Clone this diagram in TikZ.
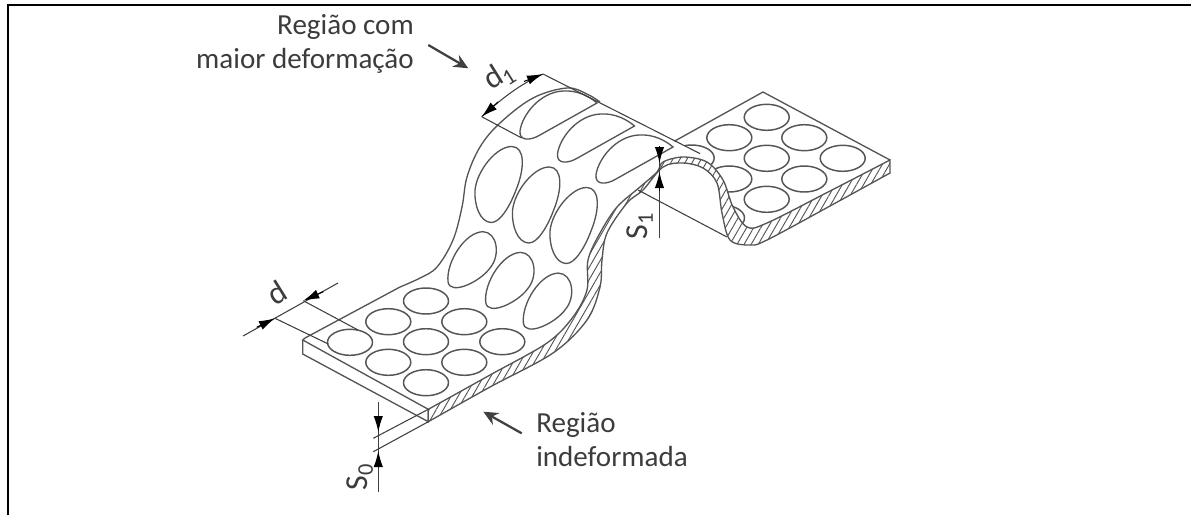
\documentclass[tikz,border=0pt]{standalone}
\usepackage{fontspec}
\setmainfont{Carlito}
\usetikzlibrary{arrows.meta,shapes.geometric,patterns.meta}
\definecolor{Ink}{HTML}{555555}
\definecolor{Dim}{HTML}{404040}
\definecolor{Label}{HTML}{3C3C3C}

\begin{document}
\begin{tikzpicture}[
  x=0.75pt,y=-0.75pt,
  lbl/.style={font=\fontsize{21.8}{25.5}\selectfont,text=Label,inner sep=0pt},
  dimlbl/.style={font=\fontsize{24}{26}\selectfont,text=Label,inner sep=0pt},
  sheet/.style={draw=Ink,line width=1pt},
  hole/.style={ellipse,draw=Ink,line width=1.1pt,fill=white,inner sep=0pt,minimum width=33.75pt,minimum height=19.5pt},
  dimln/.style={draw=Dim,line width=0.8pt},
  dimarr/.style={-{Latex[length=12pt,width=7pt]},draw=black,line width=0.8pt},
  arr/.style={-{Stealth[length=11pt,width=10pt]},draw=Dim,line width=1.7pt},
  hatched/.style={draw=Ink,line width=1pt,preaction={fill=white},pattern={Lines[angle=60,distance=4.6pt,line width=0.7pt]},pattern color=Ink}
]
\useasboundingbox (0,0) rectangle (1191,515);
\draw[line width=1.6pt,color=black] (8,515) -- (8,5) -- (1191,5);

% far plate
\coordinate (pb) at (763,92);
\coordinate (pr) at (890,160);
\coordinate (pl) at (673,142);
\draw[sheet] (pl) -- (pb) -- (pr);
\node[hole] (p1) at (766.7,117.3) {};
\node[hole] (p2) at (729.3,137.7) {};
\node[hole] (p3) at (804.3,137.7) {};
\node[hole] (p4) at (766.7,158.3) {};
\node[hole] (p5) at (842.7,158.3) {};
\node[hole] (p6) at (804.3,179) {};
\node[hole] (p7) at (766.7,199.3) {};
\node[hole] (p8) at (729.3,179) {};
\node[hole] (p9) at (691.7,158) {};
\node[hole] (p10) at (722,218) {};
\fill[white] (650,130) -- (700,153.6) -- (712,167) -- (725,190) -- (733,210) -- (740,225) -- (735,250) -- (640,250) -- cycle;

% sheet surface
\draw[sheet,fill=white] (428.3,409.3) -- (302.7,340) -- (305,338) -- (400,287)
  plot[smooth,tension=.6] coordinates {(400,287) (420,278) (437,267) (453,240) (462,207) (467,177) (480,147) (500,123) (533,98) (567,88) (587,94) (600,102)};
\draw[sheet] (302.7,340) -- (302.7,354) -- (428.3,421.7) -- (428.3,409.3);

% cut face
\draw[hatched] plot[smooth,tension=.55] coordinates {(428.3,409.3) (490,375) (547,343) (573,317) (587,290) (588,260) (600,233) (617,207) (640,187) (657,172) (663,162) (683,157) (707,162) (723,180) (733,207) (747,227) (767,223) (830,191) (890,160)}
  -- plot[smooth,tension=.55] coordinates {(890,173) (830,206) (767,240) (750,245) (730,240) (722,213) (717,183) (703,168) (683,163) (663,167) (643,190) (627,203) (607,233) (602,260) (600,287) (587,320) (553,353) (490,387) (428.3,421.7)} -- cycle;

% holes near end
\node[hole] (h1) at (350,342.3) {};
\node[hole] (h2) at (388.3,321.7) {};
\node[hole] (h3) at (426,301) {};
\node[hole] (h4) at (388.3,362.3) {};
\node[hole] (h5) at (426,341.7) {};
\node[hole] (h6) at (464.3,321.7) {};
\node[hole] (h7) at (426,382.7) {};
\node[hole] (h8) at (464.3,362.3) {};
\node[hole] (h9) at (502.3,341.7) {};

% stretched holes
\draw[sheet] (448,281.7) .. controls (446,262) and (465,232) .. (483,231.7) .. controls (497,232) and (501,255) .. (490,268) .. controls (480,282) and (450,296) .. (448,281.7) -- cycle;
\draw[sheet,shift={(37.7,20.7)}] (448,281.7) .. controls (446,262) and (465,232) .. (483,231.7) .. controls (497,232) and (501,255) .. (490,268) .. controls (480,282) and (450,296) .. (448,281.7) -- cycle;
\draw[sheet,shift={(75.4,41.4)}] (448,281.7) .. controls (446,262) and (465,232) .. (483,231.7) .. controls (497,232) and (501,255) .. (490,268) .. controls (480,282) and (450,296) .. (448,281.7) -- cycle;
\draw[sheet] (475,190) .. controls (477,170) and (497,146) .. (512,146.5) .. controls (525,147) and (525,168) .. (516,190) .. controls (510,206) and (500,223) .. (491,222.5) .. controls (480,222) and (474,205) .. (475,190) -- cycle;
\draw[sheet,shift={(37.5,20.5)}] (475,190) .. controls (477,170) and (497,146) .. (512,146.5) .. controls (525,147) and (525,168) .. (516,190) .. controls (510,206) and (500,223) .. (491,222.5) .. controls (480,222) and (474,205) .. (475,190) -- cycle;
\draw[sheet,shift={(75,41)}] (475,190) .. controls (477,170) and (497,146) .. (512,146.5) .. controls (525,147) and (525,168) .. (516,190) .. controls (510,206) and (500,223) .. (491,222.5) .. controls (480,222) and (474,205) .. (475,190) -- cycle;
\draw[sheet] (520,131) .. controls (522,115) and (540,92) .. (563,91) .. controls (578,90) and (590,97) .. (597,103) -- (540,135) .. controls (530,141) and (519,141) .. (520,131) -- cycle;
\draw[sheet,shift={(37.5,23)}] (520,131) .. controls (522,115) and (540,92) .. (563,91) .. controls (578,90) and (590,97) .. (597,103) -- (540,135) .. controls (530,141) and (519,141) .. (520,131) -- cycle;
\draw[sheet,shift={(76,44)}] (520,131) .. controls (522,115) and (540,92) .. (563,91) .. controls (578,90) and (590,97) .. (597,103) -- (540,135) .. controls (530,141) and (519,141) .. (520,131) -- cycle;

% dimension d
\coordinate (da) at (243,336);
\coordinate (db) at (338,283);
\coordinate (dtipa) at (275,318.3);
\coordinate (dtaila) at (256.7,327.3);
\coordinate (dtipb) at (303.3,300.7);
\coordinate (dtailb) at (323.3,291.7);
\draw[dimln] (da) -- (db);
\draw[dimarr] (dtaila) -- (dtipa);
\draw[dimarr] (dtailb) -- (dtipb);
\draw[dimln] (dtipa) -- (328.3,344);
\draw[dimln] (dtipb) -- (358,330);
\node[dimlbl,rotate=32] (dname) at (277,293) {d};

% dimension d1
\coordinate (dla) at (481.7,116.7);
\coordinate (dlb) at (543,74);
\draw[dimln] (dla) .. controls (500,100) and (520,84) .. (dlb);
\draw[dimarr] (498,102) -- (dla);
\draw[dimarr] (524,81.5) -- (dlb);
\draw[dimln] (dla) -- (521.7,138);
\draw[dimln] (dlb) -- (700,153.6);
\node[dimlbl,rotate=32] (dlname) at (499,76) {d\textsubscript{1}};

% dimension s1
\coordinate (sla) at (659.5,146);
\coordinate (slb) at (659.5,238);
\draw[dimln] (sla) -- (slb);
\draw[dimarr] (sla) -- (659.5,163);
\draw[dimarr] (659.5,191) -- (659.5,172);
\draw[dimln] (638,190) -- (727,237);
\node[dimlbl,rotate=90] (slname) at (640,226) {S\textsubscript{1}};

% dimension s0
\coordinate (soa) at (378.3,401.7);
\coordinate (sob) at (378.3,491.7);
\draw[dimln] (soa) -- (sob);
\draw[dimarr] (378.3,417) -- (378.3,432);
\draw[dimarr] (378.3,467) -- (378.3,451);
\draw[dimln] (373.3,438.3) -- (428.3,409.3);
\draw[dimln] (373.3,451.7) -- (428.3,421.7);
\node[dimlbl,rotate=90] (soname) at (360,477) {S\textsubscript{0}};

% region labels
\node[lbl,align=right,anchor=north east] (regmax) at (414,14) {Região com\\maior deformação};
\node[lbl,align=left,anchor=north west] (regund) at (536,412) {Região\\indeformada};
\coordinate (amaxa) at (428.3,45);
\coordinate (amaxb) at (468.3,68.3);
\coordinate (aunda) at (521.7,433.3);
\coordinate (aundb) at (483.3,411.7);
\draw[arr] (amaxa) -- (amaxb);
\draw[arr] (aunda) -- (aundb);
\end{tikzpicture}
\end{document}
